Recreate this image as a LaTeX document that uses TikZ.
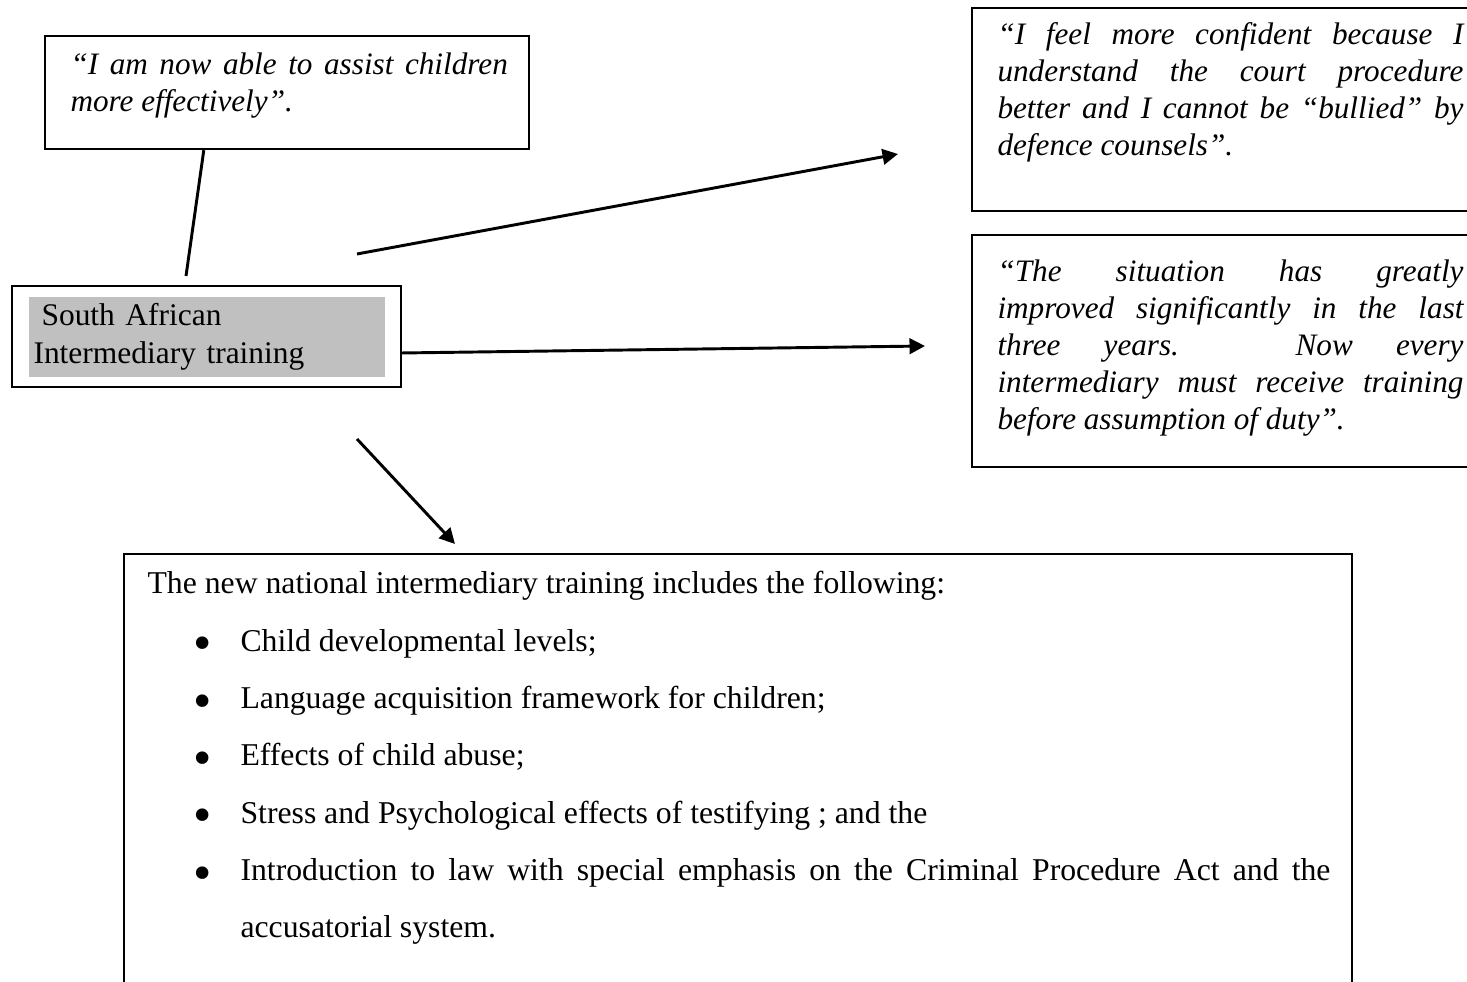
\documentclass[tikz,border=0pt]{standalone}
\usepackage{fontspec}
\usepackage{graphicx}
\setmainfont{Liberation Serif}
\usetikzlibrary{arrows.meta,fit}
\definecolor{shadegrey}{HTML}{C0C0C0}
\newcommand{\bigbullet}{\raisebox{-3.6pt}{\scalebox{1.65}{\textbullet}}}
\newcommand{\listentry}[1]{\par\noindent\hangindent=34.875pt\hangafter=1\makebox[34.875pt][l]{\hspace*{17.2pt}\bigbullet}#1}
\begin{document}
\begin{tikzpicture}[x=0.375pt,y=-0.375pt,
  frame/.style={draw, line width=0.9pt, inner sep=0pt},
  quote/.style={anchor=base west, inner sep=0pt, text width=#1, align=justify,
                font=\itshape\fontsize{11.7}{13.8}\selectfont},
  conn/.style={line width=1.1pt},
  arr/.style={conn, -{Triangle[length=5.8pt,width=5.8pt]}}]
\useasboundingbox (0,0) rectangle (1467,982);
\clip (0,0) rectangle (1467,982);

% top-left quote
\node[frame, fit={(45,36) (529,149)}] (tlbox) {};
\node[quote=164pt] (tltext) at (70,75)
  {“I am now able to assist children\linebreak more effectively”.};

% centre box
\node[frame, fit={(12,286) (401,387)}] (ctr) {};
\node[fill=shadegrey, inner sep=0pt, fit={(29,297) (385,377)}] (ctrfill) {};
\node[anchor=base west, inner sep=0pt, text width=150pt, align=left,
      font=\fontsize{11.8}{14.25}\selectfont] (ctrtext) at (33,326)
  {\hspace*{3pt}South African\\Intermediary training};

% right quotes
\node[frame, fit={(972,8) (1530,211)}] (rbox1) {};
\node[quote=174.75pt] (rtext1) at (997,45)
  {“I feel more confident because I\linebreak understand the court procedure\linebreak better and I cannot be “bullied” by\linebreak defence counsels”.};

\node[frame, fit={(972,235) (1530,467)}] (rbox2) {};
\node[quote=174.75pt] (rtext2) at (997,282)
  {“The situation has greatly\linebreak improved significantly in the last\linebreak three years. Now every\linebreak intermediary must receive training\linebreak before assumption of duty”.};

% bottom list
\node[frame, fit={(124,554) (1352,1030)}] (bbox) {};
\node[anchor=base west, inner sep=0pt, text width=443.6pt, align=justify,
      font=\fontsize{11.9}{21.5}\selectfont] (btext) at (147,594)
  {\parindent=0pt\hyphenpenalty=10000
   The new national intermediary training includes the following:
   \listentry{Child developmental levels;}
   \listentry{Language acquisition framework for children;}
   \listentry{Effects of child abuse;}
   \listentry{Stress and Psychological effects of testifying ; and the}
   \listentry{Introduction to law with special emphasis on the Criminal Procedure Act and the\linebreak accusatorial system.}\par};

% connectors
\coordinate (l1e) at (186,276);
\draw[conn] ([xshift=60pt]tlbox.south west) -- (l1e);
\coordinate (a1s) at (357,254);
\coordinate (a1e) at (898,154);
\draw[arr] (a1s) -- (a1e);
\coordinate (a2s) at (401,353);
\coordinate (a2e) at (925,346);
\draw[arr] (a2s) -- (a2e);
\coordinate (a3s) at (357,439);
\coordinate (a3e) at (455,544);
\draw[arr] (a3s) -- (a3e);
\end{tikzpicture}
\end{document}
